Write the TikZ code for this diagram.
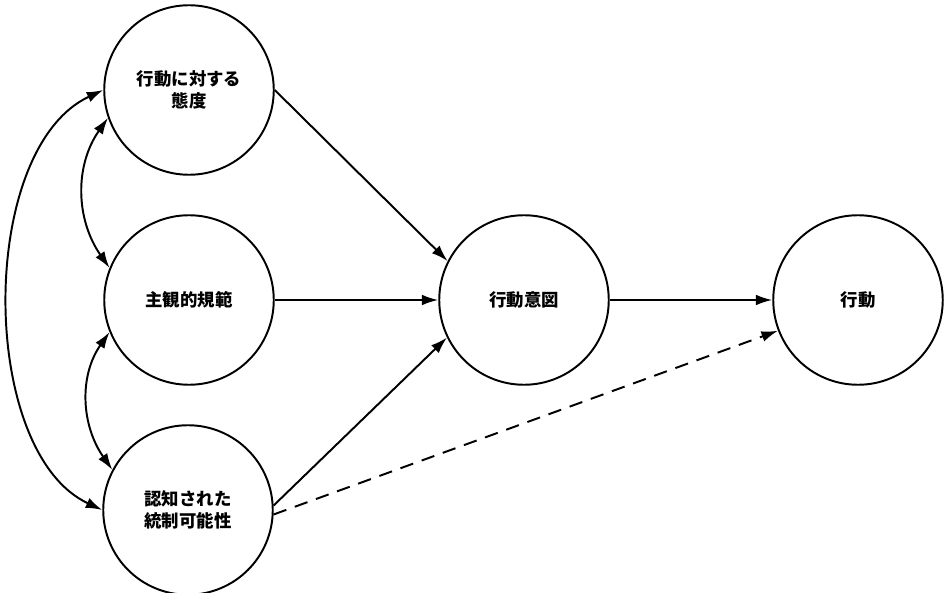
\documentclass[tikz,border=0pt]{standalone}
\usepackage{fontspec}
\newfontfamily\cjk{Noto Sans CJK JP}
\usetikzlibrary{arrows.meta}

\begin{document}
\begin{tikzpicture}[x=0.3333mm, y=0.3333mm,
        circulo/.style={circle, draw, line width=0.65mm, minimum size=56.5mm, inner sep=0pt, align=center,
            font=\cjk\bfseries\fontsize{16.5pt}{21pt}\selectfont},
        flecha/.style={line width=0.65mm, -{Latex[length=5.5mm, width=3.6mm]}},
        doble/.style={line width=0.65mm, {Latex[length=5.5mm, width=3.6mm]}-{Latex[length=5.5mm, width=3.6mm]}}]
        \useasboundingbox (0,0) rectangle (945,592);

        % Círculos de la izquierda
        \node[circulo] (actitud) at (189,502) {行動に対する\\態度};
        \node[circulo] (norma) at (189,292) {主観的規範};
        \node[circulo] (control) at (188,82) {認知された\\統制可能性};

        % Intención y conducta
        \node[circulo] (intencion) at (524,292) {行動意図};
        \node[circulo] (conducta) at (858,292) {行動};

        % Flechas hacia la intención
        \draw[flecha] (actitud.0) -- (intencion.153);
        \draw[flecha] (norma.east) -- (intencion.west);
        \draw[flecha] (control.3) -- (intencion.206);

        % Intención a conducta
        \draw[flecha] (intencion.east) -- (conducta.west);
        \draw[flecha, dash pattern=on 4.5mm off 3mm] (control.-3) -- (conducta.201);

        % Correlaciones
        \draw[doble] (actitud.180) .. controls +(205:139) and +(155:137) .. (control.180);
        \draw[doble] (actitud.199) to[out=235, in=125] (norma.158);
        \draw[doble] (norma.202) to[out=235, in=125] (control.152);
    \end{tikzpicture}
\end{document}
